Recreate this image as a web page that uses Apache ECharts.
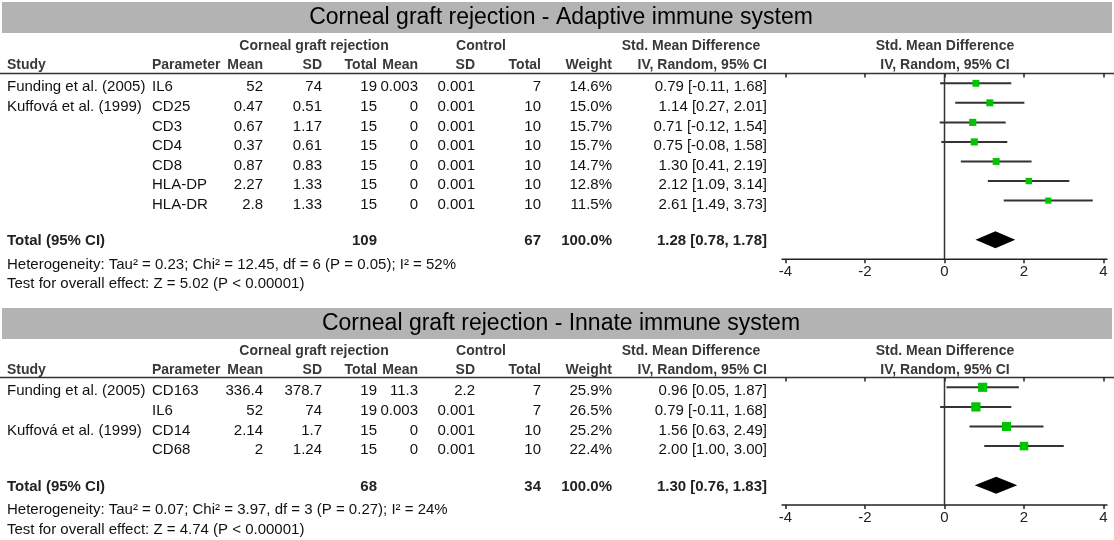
<!DOCTYPE html>
<html><head><meta charset="utf-8">
<script src="https://cdn.jsdelivr.net/npm/echarts@6/dist/echarts.min.js"></script>
<style>html,body{margin:0;padding:0;background:#fff}#c{width:1114px;height:540px}</style>
</head><body><div id="c"></div>
<script>
// ---------- Panel 1: Adaptive immune system ----------
const title1 = 'Corneal graft rejection - Adaptive immune system';
const studies1 = ['Funding et al. (2005)', 'Kuffová et al. (1999)', '', '', '', '', ''];
const params1 = ['IL6', 'CD25', 'CD3', 'CD4', 'CD8', 'HLA-DP', 'HLA-DR'];
const expMean1 = ['52', '0.47', '0.67', '0.37', '0.87', '2.27', '2.8'];
const expSD1 = ['74', '0.51', '1.17', '0.61', '0.83', '1.33', '1.33'];
const expN1 = [19, 15, 15, 15, 15, 15, 15];
const ctlMean1 = ['0.003', '0', '0', '0', '0', '0', '0'];
const ctlSD1 = ['0.001', '0.001', '0.001', '0.001', '0.001', '0.001', '0.001'];
const ctlN1 = [7, 10, 10, 10, 10, 10, 10];
const weight1 = [14.6, 15.0, 15.7, 15.7, 14.7, 12.8, 11.5];
const smd1 = [0.79, 1.14, 0.71, 0.75, 1.30, 2.12, 2.61];
const lo1 = [-0.11, 0.27, -0.12, -0.08, 0.41, 1.09, 1.49];
const hi1 = [1.68, 2.01, 1.54, 1.58, 2.19, 3.14, 3.73];
const totalN1 = [109, 67];
const totalEst1 = [1.28, 0.78, 1.78];
const het1 = 'Heterogeneity: Tau² = 0.23; Chi² = 12.45, df = 6 (P = 0.05); I² = 52%';
const test1 = 'Test for overall effect: Z = 5.02 (P < 0.00001)';

// ---------- Panel 2: Innate immune system ----------
const title2 = 'Corneal graft rejection - Innate immune system';
const studies2 = ['Funding et al. (2005)', '', 'Kuffová et al. (1999)', ''];
const params2 = ['CD163', 'IL6', 'CD14', 'CD68'];
const expMean2 = ['336.4', '52', '2.14', '2'];
const expSD2 = ['378.7', '74', '1.7', '1.24'];
const expN2 = [19, 19, 15, 15];
const ctlMean2 = ['11.3', '0.003', '0', '0'];
const ctlSD2 = ['2.2', '0.001', '0.001', '0.001'];
const ctlN2 = [7, 7, 10, 10];
const weight2 = [25.9, 26.5, 25.2, 22.4];
const smd2 = [0.96, 0.79, 1.56, 2.00];
const lo2 = [0.05, -0.11, 0.63, 1.00];
const hi2 = [1.87, 1.68, 2.49, 3.00];
const totalN2 = [68, 34];
const totalEst2 = [1.30, 0.76, 1.83];
const het2 = 'Heterogeneity: Tau² = 0.07; Chi² = 3.97, df = 3 (P = 0.27); I² = 24%';
const test2 = 'Test for overall effect: Z = 4.74 (P < 0.00001)';

const xTicks = [-4, -2, 0, 2, 4];
const totalWeight = 100.0;

// ---------- layout ----------
const FONT = '"Liberation Sans", Arial, sans-serif';
const F_BODY = '15px ' + FONT;
const F_TOT = 'bold 15px ' + FONT;
const F_HEAD = 'bold 14px ' + FONT;
const COL = {
  study: [7, 'left'], param: [152, 'left'], expMean: [263, 'right'], expSD: [322, 'right'],
  expN: [377, 'right'], ctlMean: [418, 'right'], ctlSD: [475, 'right'], ctlN: [541, 'right'],
  weight: [612, 'right'], ci: [767, 'right']
};
const ciText = (e, l, h) => e.toFixed(2) + ' [' + l.toFixed(2) + ', ' + h.toFixed(2) + ']';

function buildRows(studies, params, eM, eS, eN, cM, cS, cN, w, s, l, h, tN, tE, het, test, totalRow) {
  const rows = [];
  for (let i = 0; i < params.length; i++) {
    rows.push({ r: i, dy: 4, bold: false, cells: [
      ['study', studies[i]], ['param', params[i]], ['expMean', eM[i]], ['expSD', eS[i]], ['expN', String(eN[i])],
      ['ctlMean', cM[i]], ['ctlSD', cS[i]], ['ctlN', String(cN[i])], ['weight', w[i].toFixed(1) + '%'],
      ['ci', ciText(s[i], l[i], h[i])]
    ] });
  }
  rows.push({ r: totalRow, dy: 1.5, bold: true, cells: [
    ['study', 'Total (95% CI)'], ['expN', String(tN[0])], ['ctlN', String(tN[1])],
    ['weight', totalWeight.toFixed(1) + '%'], ['ci', ciText(tE[0], tE[1], tE[2])]
  ] });
  rows.push({ r: totalRow + 1.2, dy: 1.5, bold: false, cells: [['study', het]] });
  rows.push({ r: totalRow + 2.2, dy: 1.5, bold: false, cells: [['study', test]] });
  return rows;
}
const rows1 = buildRows(studies1, params1, expMean1, expSD1, expN1, ctlMean1, ctlSD1, ctlN1, weight1, smd1, lo1, hi1, totalN1, totalEst1, het1, test1, 8);
const rows2 = buildRows(studies2, params2, expMean2, expSD2, expN2, ctlMean2, ctlSD2, ctlN2, weight2, smd2, lo2, hi2, totalN2, totalEst2, het2, test2, 5);

function textEl(x, y, text, font, fill, align) {
  return { type: 'text', x: x, y: y, silent: true,
    style: { text: text, font: font, fill: fill, textAlign: align, textVerticalAlign: 'middle', align: align, verticalAlign: 'middle' } };
}

function tableSeries(rows, gi) {
  return {
    type: 'custom', xAxisIndex: gi * 2, yAxisIndex: gi, clip: false, silent: true, z: 5,
    data: rows.map(r => [0, r.r]),
    encode: { x: 0, y: 1 },
    renderItem: function (params, api) {
      const row = rows[params.dataIndex];
      const y = api.coord([0, api.value(1)])[1] + row.dy;
      return { type: 'group', children: row.cells.filter(c => c[1] !== '').map(c =>
        textEl(COL[c[0]][0], y, c[1], row.bold ? F_TOT : F_BODY, row.bold ? '#222' : '#111', COL[c[0]][1])) };
    }
  };
}

function studySeries(s, l, h, w, gi) {
  return {
    type: 'custom', xAxisIndex: gi * 2, yAxisIndex: gi, clip: false, z: 4,
    data: s.map((v, i) => [v, l[i], h[i], w[i], i]),
    encode: { x: [0, 1, 2], y: 4 },
    renderItem: function (params, api) {
      const row = api.value(4);
      const pE = api.coord([api.value(0), row]);
      const pL = api.coord([api.value(1), row]);
      const pH = api.coord([api.value(2), row]);
      const sz = Math.sqrt(api.value(3)) * 1.8;
      return { type: 'group', children: [
        { type: 'line', shape: { x1: pL[0], y1: pL[1], x2: pH[0], y2: pH[1] }, style: { stroke: '#333', lineWidth: 2 } },
        { type: 'rect', shape: { x: pE[0] - sz / 2, y: pE[1] - sz / 2, width: sz, height: sz }, style: { fill: '#00c400' } }
      ] };
    }
  };
}

function diamondSeries(tE, row, gi) {
  return {
    type: 'custom', xAxisIndex: gi * 2, yAxisIndex: gi, clip: false, z: 4,
    data: [[tE[0], tE[1], tE[2], row]],
    encode: { x: [0, 1, 2], y: 3 },
    renderItem: function (params, api) {
      const r = api.value(3);
      const pE = api.coord([api.value(0), r]);
      const pL = api.coord([api.value(1), r]);
      const pH = api.coord([api.value(2), r]);
      const hh = 8.5;
      return { type: 'polygon', shape: { points: [[pL[0], pL[1]], [pE[0], pE[1] - hh], [pH[0], pH[1]], [pE[0], pE[1] + hh]] }, style: { fill: '#000' } };
    }
  };
}

function zeroSeries(ymin, ymax, gi) {
  return {
    type: 'custom', xAxisIndex: gi * 2, yAxisIndex: gi, clip: false, z: 3,
    data: [[0, ymin, ymax]],
    encode: { x: 0, y: [1, 2] },
    renderItem: function (params, api) {
      const a = api.coord([api.value(0), api.value(1)]);
      const b = api.coord([api.value(0), api.value(2)]);
      return { type: 'line', shape: { x1: a[0], y1: a[1], x2: b[0], y2: b[1] }, style: { stroke: '#333', lineWidth: 1.5 } };
    }
  };
}

// axis base line, slightly longer than the tick range as in the reference
function axisLineSeries(ymax, gi) {
  return {
    type: 'custom', xAxisIndex: gi * 2, yAxisIndex: gi, clip: false, z: 3,
    data: [[xTicks[0] - 0.1, xTicks[xTicks.length - 1] + 0.1, ymax]],
    encode: { x: [0, 1], y: 2 },
    renderItem: function (params, api) {
      const a = api.coord([api.value(0), api.value(2)]);
      const b = api.coord([api.value(1), api.value(2)]);
      return { type: 'line', shape: { x1: a[0], y1: a[1], x2: b[0], y2: b[1] }, style: { stroke: '#222', lineWidth: 1.5 } };
    }
  };
}

function xAxes(gi) {
  const base = { type: 'value', gridIndex: gi, min: xTicks[0], max: xTicks[xTicks.length - 1], interval: 2, splitLine: { show: false } };
  return [
    Object.assign({}, base, {
      axisLine: { show: false, onZero: false },
      axisTick: { show: true, length: 4, lineStyle: { color: '#222', width: 1.5 } },
      axisLabel: { show: true, color: '#222', fontSize: 15, fontFamily: FONT, margin: 5 }
    }),
    Object.assign({}, base, {
      axisLine: { show: false, onZero: false },
      axisTick: { show: true, inside: true, length: 4, lineStyle: { color: '#222', width: 1.5 } },
      axisLabel: { show: false }
    })
  ];
}

const G1 = { top: 73.5, height: 185.75, ymin: -0.5, ymax: 9 };
const G2 = { top: 377.5, height: 127.4, ymin: -0.5, ymax: 6 };

function headerGraphics(yTitle, yBar, yH1, yH2, yRule, title) {
  const hc = '#383838';
  return [
    { type: 'rect', shape: { x: 2, y: yBar, width: 1110, height: 31 }, style: { fill: '#b3b3b3' }, silent: true },
    textEl(561, yTitle, title, '23px ' + FONT, '#000', 'center'),
    textEl(314, yH1, 'Corneal graft rejection', F_HEAD, hc, 'center'),
    textEl(481, yH1, 'Control', F_HEAD, hc, 'center'),
    textEl(691, yH1, 'Std. Mean Difference', F_HEAD, hc, 'center'),
    textEl(945, yH1, 'Std. Mean Difference', F_HEAD, hc, 'center'),
    textEl(COL.study[0], yH2, 'Study', F_HEAD, hc, 'left'),
    textEl(COL.param[0], yH2, 'Parameter', F_HEAD, hc, 'left'),
    textEl(COL.expMean[0], yH2, 'Mean', F_HEAD, hc, 'right'),
    textEl(COL.expSD[0], yH2, 'SD', F_HEAD, hc, 'right'),
    textEl(COL.expN[0], yH2, 'Total', F_HEAD, hc, 'right'),
    textEl(COL.ctlMean[0], yH2, 'Mean', F_HEAD, hc, 'right'),
    textEl(COL.ctlSD[0], yH2, 'SD', F_HEAD, hc, 'right'),
    textEl(COL.ctlN[0], yH2, 'Total', F_HEAD, hc, 'right'),
    textEl(COL.weight[0], yH2, 'Weight', F_HEAD, hc, 'right'),
    textEl(COL.ci[0], yH2, 'IV, Random, 95% CI', F_HEAD, hc, 'right'),
    textEl(945, yH2, 'IV, Random, 95% CI', F_HEAD, hc, 'center'),
    { type: 'line', shape: { x1: 0, y1: yRule, x2: 1114, y2: yRule }, style: { stroke: '#333', lineWidth: 1.5 }, silent: true }
  ];
}

const chart = echarts.init(document.getElementById('c'), null, { renderer: 'canvas' });
chart.setOption({
  backgroundColor: '#fff',
  animation: false,
  grid: [
    { left: 785.5, width: 318, top: G1.top, height: G1.height },
    { left: 785.5, width: 318, top: G2.top, height: G2.height }
  ],
  xAxis: xAxes(0).concat(xAxes(1)),
  yAxis: [
    { type: 'value', gridIndex: 0, min: G1.ymin, max: G1.ymax, inverse: true, show: false },
    { type: 'value', gridIndex: 1, min: G2.ymin, max: G2.ymax, inverse: true, show: false }
  ],
  graphic: headerGraphics(18, 2, 46, 65.5, G1.top, title1).concat(headerGraphics(323.5, 308, 351, 370.5, G2.top, title2)),
  series: [
    zeroSeries(G1.ymin, G1.ymax, 0), axisLineSeries(G1.ymax, 0), studySeries(smd1, lo1, hi1, weight1, 0), diamondSeries(totalEst1, 8, 0), tableSeries(rows1, 0),
    zeroSeries(G2.ymin, G2.ymax, 1), axisLineSeries(G2.ymax, 1), studySeries(smd2, lo2, hi2, weight2, 1), diamondSeries(totalEst2, 5, 1), tableSeries(rows2, 1)
  ]
});
</script></body></html>
